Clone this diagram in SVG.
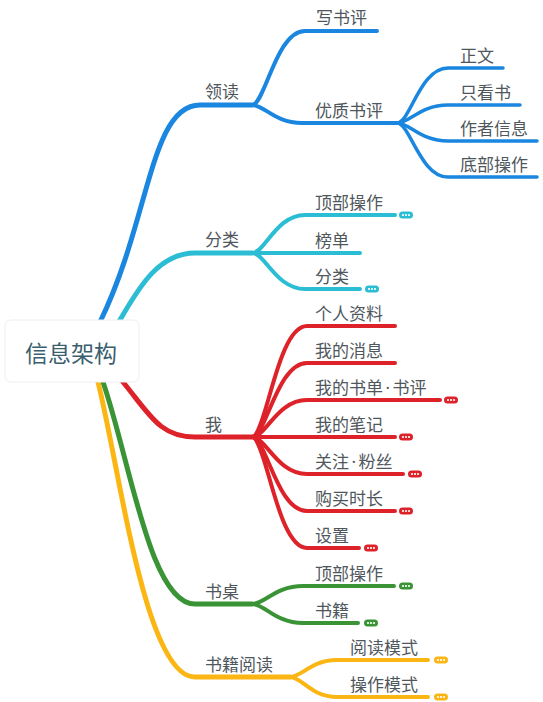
<svg xmlns="http://www.w3.org/2000/svg" xmlns:xlink="http://www.w3.org/1999/xlink" width="543" height="702" viewBox="0 0 543 702">
<defs>
<style>
.c{fill:none;stroke-linecap:round;stroke-linejoin:round}
.m{stroke-width:5}
.s{stroke-width:4}
.l{stroke-width:3.5}
.blue{stroke:#1a86df}
.cyan{stroke:#2bbdd3}
.red{stroke:#dd2229}
.green{stroke:#3a9436}
.yellow{stroke:#fbb614}
text{font-family:"Noto Sans CJK SC","Noto Sans",sans-serif;font-size:17px;fill:#4f575d}
.root{font-size:23px;fill:#3b5f6e}
.dot{font-family:"Noto Sans",sans-serif}
</style>
<g id="dots"><circle cx="4" cy="0" r="1.1" fill="#fff"/><circle cx="7" cy="0" r="1.1" fill="#fff"/><circle cx="10" cy="0" r="1.1" fill="#fff"/></g>
</defs>
<rect width="543" height="702" fill="#fff"/>
<g id="connectors">
<path class="c m blue" d="M85 350 L100 322 C150 220 150 105 200 105 L252 105"/>
<path class="c s blue" d="M252 105 C265 105 276 31 305 31 L377 31"/>
<path class="c s blue" d="M252 105 C264.5 105 274.5 123 302 123 L397 123"/>
<path class="c l blue" d="M397 123 C410 123 420 68 448 68 L503 68"/>
<path class="c l blue" d="M397 123 C410 123 420 105 448 105 L520 105"/>
<path class="c l blue" d="M397 123 C410 123 420 141 448 141 L537 141"/>
<path class="c l blue" d="M397 123 C410 123 420 177 448 177 L537 177"/>
<path class="c m cyan" d="M100 350 L120 320 C140 285 160 253 195 253 L252 253"/>
<path class="c s cyan" d="M252 253 C265 253 276 215 305 215 L395 215"/>
<path class="c s cyan" d="M252 253 L360 253"/>
<path class="c s cyan" d="M252 253 C265 253 276 289 305 289 L360 289"/>
<path class="c m red" d="M110 360 L123 382 C150 415 160 437 195 437 L252 437"/>
<path class="c s red" d="M252 437 C266 437 277 326 307 326 L395 326"/>
<path class="c s red" d="M252 437 C266 437 277 363 307 363 L395 363"/>
<path class="c s red" d="M252 437 C266 437 277 400 307 400 L440 400"/>
<path class="c s red" d="M252 437 L395 437"/>
<path class="c s red" d="M252 437 C266 437 277 474 307 474 L403 474"/>
<path class="c s red" d="M252 437 C266 437 277 511 307 511 L395 511"/>
<path class="c s red" d="M252 437 C266 437 277 548 307 548 L359 548"/>
<path class="c m green" d="M100 360 L103 382 C130 460 150 604 195 604 L252 604"/>
<path class="c s green" d="M252 604 C265 604 275 586 303 586 L394 586"/>
<path class="c s green" d="M252 604 C265 604 275 623 303 623 L358 623"/>
<path class="c m yellow" d="M95 360 L98 382 C120 470 145 677 195 677 L290 677"/>
<path class="c s yellow" d="M290 677 C302 677 311 660 337 660 L428 660"/>
<path class="c s yellow" d="M290 677 C302 677 311 697 337 697 L428 697"/>
</g>
<g id="root">
<rect x="5" y="320" width="134" height="62" rx="6" fill="#fff" stroke="#eeeeee"/>
<text class="root" x="25" y="362">信息架构</text>
</g>
<g id="n-lingdu"><text x="205" y="98">领读</text></g>
<g id="n-xieshuping"><text x="316" y="24">写书评</text></g>
<g id="n-youzhi"><text x="315" y="117">优质书评</text></g>
<g id="n-zhengwen"><text x="460" y="62">正文</text></g>
<g id="n-zhikan"><text x="460" y="99">只看书</text></g>
<g id="n-zuozhe"><text x="460" y="135">作者信息</text></g>
<g id="n-dibu"><text x="460" y="171">底部操作</text></g>
<g id="n-fenlei"><text x="205" y="246">分类</text></g>
<g id="n-dingbu1"><text x="315" y="209">顶部操作</text><rect x="399" y="211.5" width="14" height="7" rx="3.5" fill="#2bbdd3"/><use xlink:href="#dots" x="399" y="215"/></g>
<g id="n-bangdan"><text x="315" y="247">榜单</text></g>
<g id="n-fenlei2"><text x="315" y="283">分类</text><rect x="365" y="285.5" width="14" height="7" rx="3.5" fill="#2bbdd3"/><use xlink:href="#dots" x="365" y="289"/></g>
<g id="n-wo"><text x="205" y="431">我</text></g>
<g id="n-geren"><text x="315" y="320">个人资料</text></g>
<g id="n-xiaoxi"><text x="315" y="357">我的消息</text></g>
<g id="n-shudan"><text x="315" y="394">我的书单<tspan class="dot" dx="2.5">·</tspan><tspan dx="2.5">书评</tspan></text><rect x="444" y="396.5" width="14" height="7" rx="3.5" fill="#dd2229"/><use xlink:href="#dots" x="444" y="400"/></g>
<g id="n-biji"><text x="315" y="431">我的笔记</text><rect x="399" y="433.5" width="14" height="7" rx="3.5" fill="#dd2229"/><use xlink:href="#dots" x="399" y="437"/></g>
<g id="n-guanzhu"><text x="315" y="468">关注<tspan class="dot" dx="2.5">·</tspan><tspan dx="2.5">粉丝</tspan></text><rect x="408" y="470.5" width="14" height="7" rx="3.5" fill="#dd2229"/><use xlink:href="#dots" x="408" y="474"/></g>
<g id="n-goumai"><text x="315" y="505">购买时长</text><rect x="399" y="507.5" width="14" height="7" rx="3.5" fill="#dd2229"/><use xlink:href="#dots" x="399" y="511"/></g>
<g id="n-shezhi"><text x="315" y="542">设置</text><rect x="364" y="544.5" width="14" height="7" rx="3.5" fill="#dd2229"/><use xlink:href="#dots" x="364" y="548"/></g>
<g id="n-shuzhuo"><text x="205" y="598">书桌</text></g>
<g id="n-dingbu2"><text x="315" y="580">顶部操作</text><rect x="399" y="582.5" width="14" height="7" rx="3.5" fill="#3a9436"/><use xlink:href="#dots" x="399" y="586"/></g>
<g id="n-shuji"><text x="315" y="617">书籍</text><rect x="364" y="619.5" width="14" height="7" rx="3.5" fill="#3a9436"/><use xlink:href="#dots" x="364" y="623"/></g>
<g id="n-yuedu"><text x="205" y="671">书籍阅读</text></g>
<g id="n-yuedumoshi"><text x="350" y="654">阅读模式</text><rect x="434" y="656.5" width="14" height="7" rx="3.5" fill="#fbb614"/><use xlink:href="#dots" x="434" y="660"/></g>
<g id="n-caozuo"><text x="350" y="691">操作模式</text><rect x="434" y="693.5" width="14" height="7" rx="3.5" fill="#fbb614"/><use xlink:href="#dots" x="434" y="697"/></g>
</svg>
